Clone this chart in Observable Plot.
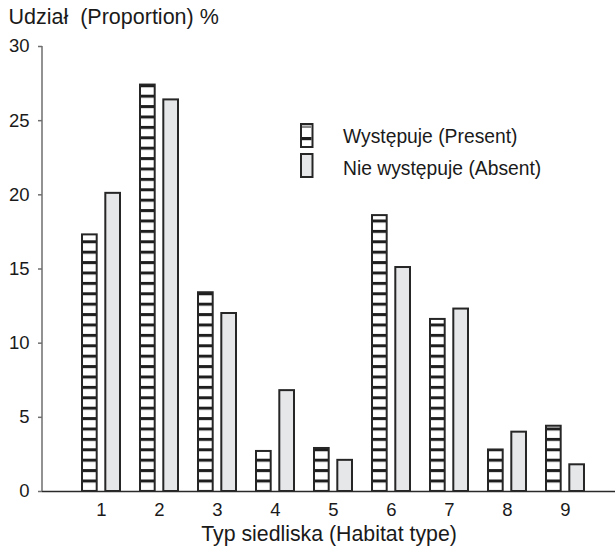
<!DOCTYPE html>
<html>
<head>
<meta charset="utf-8">
<script src="https://cdn.jsdelivr.net/npm/d3@7"></script>
<script src="https://cdn.jsdelivr.net/npm/@observablehq/plot@0.6"></script>
<style>
  body { margin: 0; background: #fff; font-family: "Liberation Sans", Arial, sans-serif; }
  #wrap { position: relative; width: 615px; height: 547px; }
  .legend { position: absolute; left: 0; top: 0; width: 615px; height: 547px; pointer-events: none; }
</style>
</head>
<body>
<div id="wrap"></div>
<script>
// ---- data ----
const habitats = ["1", "2", "3", "4", "5", "6", "7", "8", "9"];
const presentValues = [17.3, 27.4, 13.4, 2.7, 2.9, 18.6, 11.6, 2.8, 4.4];
const absentValues  = [20.1, 26.4, 12.0, 6.8, 2.1, 15.1, 12.3, 4.0, 1.8];
const yTicks = [0, 5, 10, 15, 20, 25, 30];
const seriesLabels = ["Występuje (Present)", "Nie występuje (Absent)"];
const yTitle = "Udział  (Proportion) %";
const xTitle = "Typ siedliska (Habitat type)";

const presentData = habitats.map((h, i) => ({habitat: h, value: presentValues[i]}));
const absentData = habitats.map((h, i) => ({habitat: h, value: absentValues[i]}));

const FONT = "'Liberation Sans', Arial, sans-serif";
const SVGNS = "http://www.w3.org/2000/svg";

// pattern definitions (horizontal ladder stripes)
function defsMark() {
  const g = document.createElementNS(SVGNS, "g");
  g.innerHTML = `<defs>
    <pattern id="stripes" patternUnits="userSpaceOnUse" x="0" y="479.5" width="20" height="10.4">
      <rect x="0" y="0" width="20" height="10.4" fill="#ffffff"></rect>
      <rect x="0" y="0" width="20" height="3" fill="#1e1e1e"></rect>
    </pattern>
  </defs>`;
  return g;
}

// y axis spine
function spineMark(index, scales, values, dims) {
  const l = document.createElementNS(SVGNS, "line");
  const x = dims.marginLeft;
  l.setAttribute("x1", x); l.setAttribute("x2", x);
  l.setAttribute("y1", scales.y(yTicks[yTicks.length - 1]));
  l.setAttribute("y2", scales.y(0));
  l.setAttribute("stroke", "#6e6e6e");
  l.setAttribute("stroke-width", 1.5);
  return l;
}

const chart = Plot.plot({
  width: 615,
  height: 547,
  marginLeft: 42,
  marginRight: 0,
  marginTop: 46,
  marginBottom: 56,
  style: {fontFamily: FONT, background: "#ffffff", color: "#1a1a1a", overflow: "visible"},
  x: {type: "band", domain: habitats, range: [62, 604], padding: 0.345, align: 0.5, round: false, label: null},
  y: {domain: [0, 30], label: null},
  marks: [
    defsMark,
    Plot.barY(presentData, {x: "habitat", y: "value", fill: "url(#stripes)", stroke: "#262626", strokeWidth: 2, insetRight: 23.3}),
    Plot.barY(absentData, {x: "habitat", y: "value", fill: "#e6e7e8", stroke: "#262626", strokeWidth: 2, insetLeft: 23.3}),
    Plot.ruleY([0], {stroke: "#2a2a2a", strokeWidth: 1.5}),
    spineMark,
    Plot.axisY({ticks: yTicks, tickSize: 4, tickPadding: 9, fontSize: 18.5, stroke: "#6e6e6e", strokeWidth: 1.5, label: null, tickFormat: d => String(d)}),
    Plot.axisX({tickSize: 0, tickPadding: 11, fontSize: 18.5, label: null}),
    Plot.text([yTitle], {frameAnchor: "top-left", text: d => d, textAnchor: "start", lineAnchor: "bottom", dx: -34, dy: -22.7, fontSize: 21.5, fill: "#1a1a1a"}),
    Plot.text([xTitle], {frameAnchor: "bottom", text: d => d, textAnchor: "middle", lineAnchor: "bottom", dy: 49, fontSize: 21.3, fill: "#1a1a1a"})
  ]
});

const wrap = document.getElementById("wrap");
wrap.appendChild(chart);

// legend overlay
const legend = document.createElementNS(SVGNS, "svg");
legend.setAttribute("class", "legend");
legend.setAttribute("width", 615);
legend.setAttribute("height", 547);
legend.innerHTML = `
  <g transform="translate(301,124)">
    <rect x="0" y="0" width="11.5" height="23" fill="#ffffff" stroke="#262626" stroke-width="2"></rect>
    <rect x="1" y="1.5" width="9.5" height="2.5" fill="#8a8a8a"></rect>
    <rect x="1" y="13" width="9.5" height="3.2" fill="#1e1e1e"></rect>
  </g>
  <g transform="translate(301,154)">
    <rect x="0" y="0" width="11.5" height="23" fill="#e6e7e8" stroke="#262626" stroke-width="2"></rect>
  </g>
  <text x="343" y="143" font-size="19.3" font-family="${FONT}" fill="#1a1a1a">${seriesLabels[0]}</text>
  <text x="343" y="175" font-size="19.3" font-family="${FONT}" fill="#1a1a1a">${seriesLabels[1]}</text>
`;
wrap.appendChild(legend);
</script>
</body>
</html>
